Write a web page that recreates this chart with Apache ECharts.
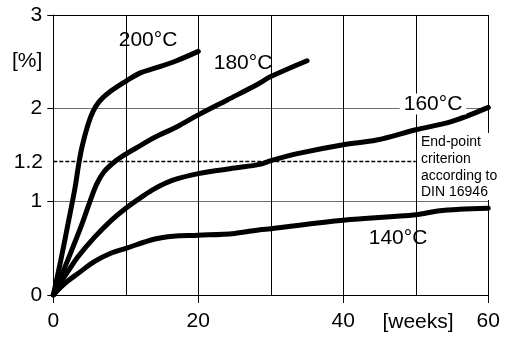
<!DOCTYPE html>
<html>
<head>
<meta charset="utf-8">
<script src="https://cdn.jsdelivr.net/npm/echarts@6/dist/echarts.min.js"></script>
<style>
html,body{margin:0;padding:0;background:#fff;}
#chart{width:505px;height:338px;}
</style>
</head>
<body>
<div id="chart"></div>
<script>
// ---- data (weeks, elongation %) ----
var curve200 = [[0,0],[1,0.36],[2,0.75],[3,1.15],[3.5,1.40],[4,1.60],[4.8,1.83],[5.5,1.97],[6.3,2.07],[7.5,2.16],[10,2.29],[12,2.38],[14,2.43],[17,2.51],[20,2.61]];
var curve180 = [[0,0],[1.5,0.28],[3,0.57],[4,0.77],[5,0.99],[6,1.19],[7,1.32],[8.5,1.43],[10,1.51],[12,1.60],[14,1.69],[17,1.80],[20,1.93],[24,2.09],[28,2.25],[30,2.34],[35,2.51]];
var curve160 = [[0,0],[1,0.13],[2,0.25],[3.4,0.41],[5.7,0.62],[8,0.80],[10,0.93],[12,1.04],[14,1.14],[16.5,1.23],[20,1.30],[25,1.36],[28.5,1.40],[30,1.44],[34,1.52],[40,1.61],[44.6,1.66],[50,1.77],[55,1.86],[60,2.01]];
var curve140 = [[0,0],[1,0.08],[2,0.15],[3.4,0.23],[5.7,0.36],[8,0.45],[10,0.50],[14,0.60],[16.5,0.63],[20,0.64],[25,0.66],[28.5,0.70],[30,0.71],[40,0.80],[50,0.86],[53,0.90],[56,0.92],[60,0.93]];
var seriesNames = ['200°C','180°C','160°C','140°C'];
// end-point criterion line (as drawn in the picture), its label and extent
var endPointLine = [[0,1.43],[50,1.43]];
var endPointLabel = '1.2';
var endPointText = 'End-point\ncriterion\naccording to\nDIN 16946';
var xTickLabels = ['0','20','40','60'];
var yTickLabels = ['0','1','2','3'];
var yUnit = '[%]';
var xUnit = '[weeks]';

var FONT = 'Liberation Sans, Arial, sans-serif';
var chart = echarts.init(document.getElementById('chart'), null, {renderer:'canvas'});

function curve(name, data){
  return {
    name:name, type:'line', data:data, xAxisIndex:0, yAxisIndex:0,
    smooth:0.35, symbol:'none', z:5,
    lineStyle:{color:'#000', width:5, cap:'round', join:'round'}
  };
}

var option = {
  animation:false,
  backgroundColor:'#fff',
  grid:{left:53.3, right:16.7, top:15, bottom:43, containLabel:false},
  xAxis:[
    {type:'value', min:0, max:60, interval:10, position:'bottom',
     axisLine:{show:true, lineStyle:{color:'#000', width:1}},
     axisTick:{show:false}, axisLabel:{show:false},
     splitLine:{show:true, lineStyle:{color:'#000', width:1}}},
    {type:'value', min:0, max:60, interval:20, position:'bottom',
     axisLine:{show:false},
     axisTick:{show:true, length:8, lineStyle:{color:'#000', width:1}},
     axisLabel:{show:true, margin:16, fontSize:21, fontFamily:FONT, color:'#000',
       formatter:function(v){ return xTickLabels[Math.round(v/20)]; }},
     splitLine:{show:false}},
    {type:'value', min:0, max:60, position:'top',
     axisLine:{show:true, lineStyle:{color:'#000', width:1}},
     axisTick:{show:false}, axisLabel:{show:false}, splitLine:{show:false}}
  ],
  yAxis:[
    {type:'value', min:0, max:3, interval:1,
     axisLine:{show:true, lineStyle:{color:'#000', width:1}},
     axisTick:{show:true, length:6, lineStyle:{color:'#000', width:1}},
     axisLabel:{show:true, margin:11, fontSize:21, fontFamily:FONT, color:'#000',
       formatter:function(v){ return yTickLabels[Math.round(v)]; }},
     splitLine:{show:true, lineStyle:{color:'#6e6e6e', width:1.2}}}
  ],
  series:[
    {type:'line', data:endPointLine, symbol:'none', z:3, silent:true,
     lineStyle:{color:'#000', width:1.5, type:[4,2]}},
    curve(seriesNames[0], curve200),
    curve(seriesNames[1], curve180),
    curve(seriesNames[2], curve160),
    curve(seriesNames[3], curve140)
  ],
  graphic:[
    {type:'text', left:12, top:51, style:{text:yUnit, fontSize:21, fontFamily:FONT, fill:'#000'}},
    {type:'text', x:43, y:162, style:{text:endPointLabel, fontSize:21, fontFamily:FONT, fill:'#000', align:'right', verticalAlign:'middle'}},
    {type:'text', x:418, y:322, style:{text:xUnit, fontSize:21, fontFamily:FONT, fill:'#000', align:'center', verticalAlign:'middle'}},
    {type:'text', x:148, y:40, z:10, style:{text:seriesNames[0], fontSize:21, fontFamily:FONT, fill:'#000', align:'center', verticalAlign:'middle'}},
    {type:'text', x:243, y:63, z:10, style:{text:seriesNames[1], fontSize:21, fontFamily:FONT, fill:'#000', align:'center', verticalAlign:'middle'}},
    {type:'text', x:433, y:104, z:10, style:{text:seriesNames[2], fontSize:21, fontFamily:FONT, fill:'#000', align:'center', verticalAlign:'middle', backgroundColor:'#fff', padding:[0,4,0,4]}},
    {type:'text', x:398, y:238, z:10, style:{text:seriesNames[3], fontSize:21, fontFamily:FONT, fill:'#000', align:'center', verticalAlign:'middle'}},
    {type:'rect', z:9, shape:{x:419, y:133, width:86, height:67}, style:{fill:'#fff'}},
    {type:'text', x:421, y:134, z:10, style:{text:endPointText, fontSize:14, lineHeight:16.7, fontFamily:FONT, fill:'#000', align:'left', verticalAlign:'top'}}
  ]
};
chart.setOption(option);
</script>
</body>
</html>
